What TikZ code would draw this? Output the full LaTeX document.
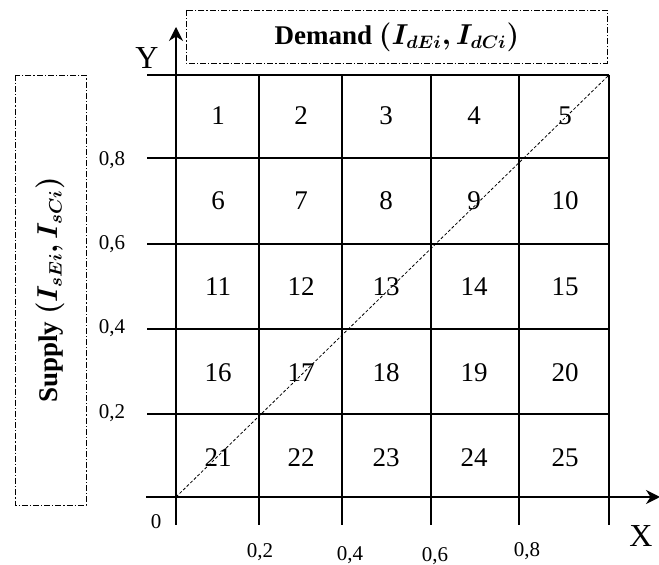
\documentclass[tikz,border=0pt]{standalone}
\usepackage{fontspec}
\usepackage{amsmath,bm}
\setmainfont{Liberation Serif}
\usetikzlibrary{arrows.meta}
\tikzset{
  grid line/.style={line width=1pt},
  frame box/.style={draw, line width=0.4pt, dash pattern=on 3pt off 1pt on 0.6pt off 1pt},
  cell/.style={font=\fontsize{13.5}{16}\selectfont},
  tick label/.style={font=\fontsize{10.5}{12}\selectfont},
  axis name/.style={font=\fontsize{16}{18}\selectfont},
}
\begin{document}
\begin{tikzpicture}[x=0.5pt,y=-0.5pt]
\useasboundingbox (0,0) rectangle (659,565);
% titles in dash-dot frames
\draw[frame box] (186,10) rectangle (607,63);
\node[cell] (demand) at (397,37) {\textbf{Demand}\ $\boldsymbol{(I_{dEi},I_{dCi})}$};
\draw[frame box] (15,75) rectangle (86,505);
\node[cell,rotate=90] (supply) at (50,290) {\textbf{Supply}\ $\boldsymbol{(I_{sEi},I_{sCi})}$};
% axes
\draw[grid line,-{Stealth[length=7pt,width=7pt]}] (176,525) -- (176,27);
\draw[grid line,-{Stealth[length=7pt,width=7pt]}] (146,497) -- (660,497);
\node[axis name] (ylab) at (147,58) {Y};
\node[axis name] (xlab) at (641,536) {X};
\node[tick label] (zero) at (156,522) {0};
% grid
\foreach \y in {75,158,244,329,414}
  \draw[grid line] (147,\y) -- (609,\y);
\foreach \x in {259,342,431,519,609}
  \draw[grid line] (\x,75) -- (\x,525);
\draw[line width=0.4pt,dash pattern=on 1.5pt off 1pt] (176,497) -- (609,75);
% tick labels
\foreach \v/\y in {8/160,6/244,4/328,2/413}
  \node[tick label] (yt\v) at (112,\y) {0,\v};
\foreach \v/\x/\y in {2/260/552,4/350/555,6/435/556,8/527/551}
  \node[tick label] (xt\v) at (\x,\y) {0,\v};
% cell numbers
\foreach \cy [count=\r] in {116,201,287,373,458}
  \foreach \cx [count=\c] in {218,301,386,474,565} {
    \pgfmathtruncatemacro{\n}{(\r-1)*5+\c}
    \node[cell] (c\n) at (\cx,\cy) {\n};
  }
\end{tikzpicture}
\end{document}
